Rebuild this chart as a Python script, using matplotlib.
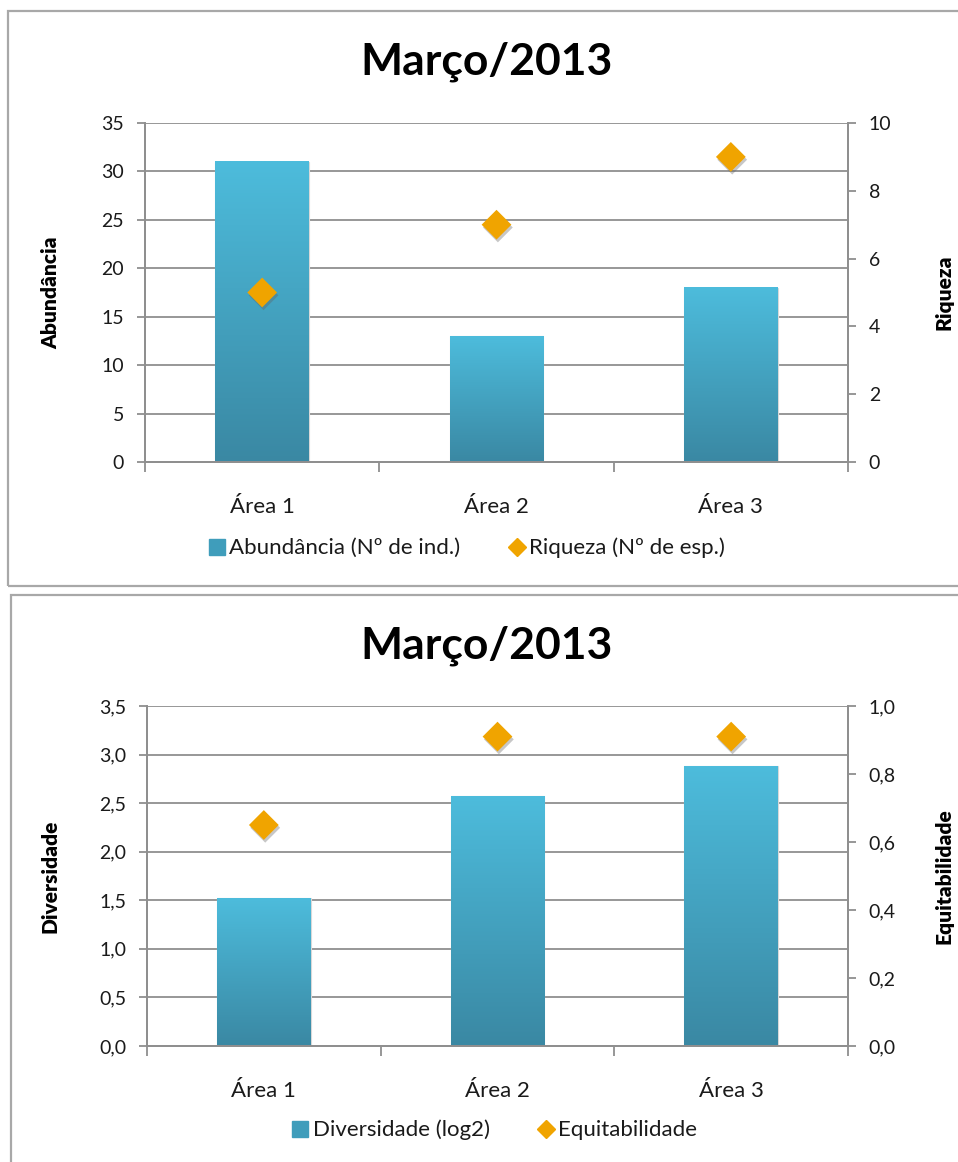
import matplotlib
matplotlib.use("Agg")
import matplotlib.pyplot as plt
import matplotlib.patheffects as pe
import numpy as np
from matplotlib.colors import LinearSegmentedColormap
from matplotlib.lines import Line2D
from matplotlib.patches import Rectangle
from matplotlib.ticker import FuncFormatter, FixedLocator

plt.rcParams["font.family"] = ["Lato", "DejaVu Sans"]

areas = ["Área 1", "Área 2", "Área 3"]
abundancia = [31, 13, 18]
riqueza = [5, 7, 9]
diversidade = [1.52, 2.57, 2.88]
equitabilidade = [0.65, 0.91, 0.91]

W, H = 958, 1162
fig = plt.figure(figsize=(W / 100, H / 100), dpi=100)

bar_cmap = LinearSegmentedColormap.from_list("bar", ["#3a88a3", "#4dbcdc"])
orange = "#f0a400"
grid_c = "#8f8f8f"
txt_c = "#1a1a1a"


def px(x0, y0, x1, y1):
    # pixel box (top-left origin) -> figure fraction rect
    return [x0 / W, 1 - y1 / H, (x1 - x0) / W, (y1 - y0) / H]


def panel(box, rect, title_y, legend_xy, bars, points, ymax, ystep, y2max, y2step,
          ylabel, y2label, bar_name, pt_name, comma):
    fig.add_artist(Rectangle((box[0] / W, 1 - box[3] / H), (box[2] - box[0]) / W,
                             (box[3] - box[1]) / H, transform=fig.transFigure,
                             fill=False, edgecolor="#a8a8a8", lw=1.6))
    fig.text(487 / W, 1 - title_y / H, "Março/2013", ha="center", va="center",
             fontsize=32, fontweight="bold", color="#000000")

    ax = fig.add_axes(rect)
    ax2 = ax.twinx()
    x = np.arange(len(areas))
    width = 0.4
    grad = np.linspace(0, 1, 256).reshape(-1, 1)
    for xi, v in zip(x, bars):
        ax.imshow(grad, cmap=bar_cmap, origin="lower", aspect="auto",
                  extent=[xi - width / 2, xi + width / 2, 0, v], zorder=2)
        ax.add_patch(Rectangle((xi - width / 2, 0), width, v, fill=False,
                               edgecolor="#d8d8d8", lw=0.8, zorder=1.9))

    ax.set_xlim(-0.5, len(areas) - 0.5)
    ax.set_ylim(0, ymax)
    ax2.set_ylim(0, y2max)
    ax.set_yticks(np.arange(0, ymax + ystep / 2, ystep))
    ax2.set_yticks(np.arange(0, y2max + y2step / 2, y2step))
    if comma:
        ax.yaxis.set_major_formatter(FuncFormatter(lambda v, p: f"{v:.1f}".replace(".", ",")))
        ax2.yaxis.set_major_formatter(FuncFormatter(lambda v, p: f"{v:.1f}".replace(".", ",")))
    else:
        ax.yaxis.set_major_formatter(FuncFormatter(lambda v, p: f"{v:.0f}"))
        ax2.yaxis.set_major_formatter(FuncFormatter(lambda v, p: f"{v:.0f}"))
    ax.yaxis.grid(True, color=grid_c, lw=1.3, zorder=0)
    ax.set_axisbelow(True)

    # category boundaries carry the tick marks, labels sit at the centres
    ax.xaxis.set_major_locator(FixedLocator([-0.5, 0.5, 1.5, 2.5]))
    ax.xaxis.set_major_formatter(FuncFormatter(lambda v, p: ""))
    ax.xaxis.set_minor_locator(FixedLocator(x))
    ax.set_xticklabels(areas, minor=True)
    ax.tick_params(axis="x", which="major", length=7, width=1.3, color=grid_c)
    ax.tick_params(axis="x", which="minor", length=0, pad=25, labelsize=16, labelcolor=txt_c)
    ax.tick_params(axis="y", length=6, width=1.3, color=grid_c, pad=9,
                   labelsize=14, labelcolor=txt_c)
    ax2.tick_params(axis="y", length=6, width=1.3, color=grid_c, pad=9,
                    labelsize=14, labelcolor=txt_c)

    for a in (ax, ax2):
        a.spines["top"].set_visible(False)
        for s in ("left", "right", "bottom"):
            a.spines[s].set_color(grid_c)
            a.spines[s].set_linewidth(1.3)

    ax2.scatter(x, points, marker="D", s=230, color=orange, zorder=5, linewidths=0,
                path_effects=[pe.SimplePatchShadow(offset=(1, -2), shadow_rgbFace="#606060",
                                                   alpha=0.35), pe.Normal()])

    ax.set_ylabel(ylabel, fontsize=15, fontweight="heavy")
    ax2.set_ylabel(y2label, fontsize=15, fontweight="heavy", rotation=90)
    ax.yaxis.set_label_coords((60 - rect[0] * W) / (rect[2] * W), 0.5)
    ax2.yaxis.set_label_coords((935 - rect[0] * W) / (rect[2] * W), 0.5)

    handles = [Line2D([], [], ls="none", marker="s", ms=12, color="#3f9dbb"),
               Line2D([], [], ls="none", marker="D", ms=9, color=orange)]
    ax.legend(handles, [bar_name, pt_name], loc="center", ncol=2, frameon=False,
              bbox_to_anchor=(legend_xy[0] / W, 1 - legend_xy[1] / H),
              bbox_transform=fig.transFigure,
              fontsize=16, handlelength=0.7, handletextpad=0.2, columnspacing=2.2,
              labelcolor=txt_c)


panel((8, 11, W + 10, 586), px(145, 123, 848, 462), 62, (467, 548),
      abundancia, riqueza, 35, 5, 10, 2,
      "Abundância", "Riqueza",
      "Abundância (Nº de ind.)", "Riqueza (Nº de esp.)", False)

panel((11, 595, W + 10, H + 10), px(147, 706, 848, 1046), 646, (495, 1130),
      diversidade, equitabilidade, 3.5, 0.5, 1.0, 0.2,
      "Diversidade", "Equitabilidade",
      "Diversidade (log2)", "Equitabilidade", True)

fig.savefig("out.png", dpi=100)
